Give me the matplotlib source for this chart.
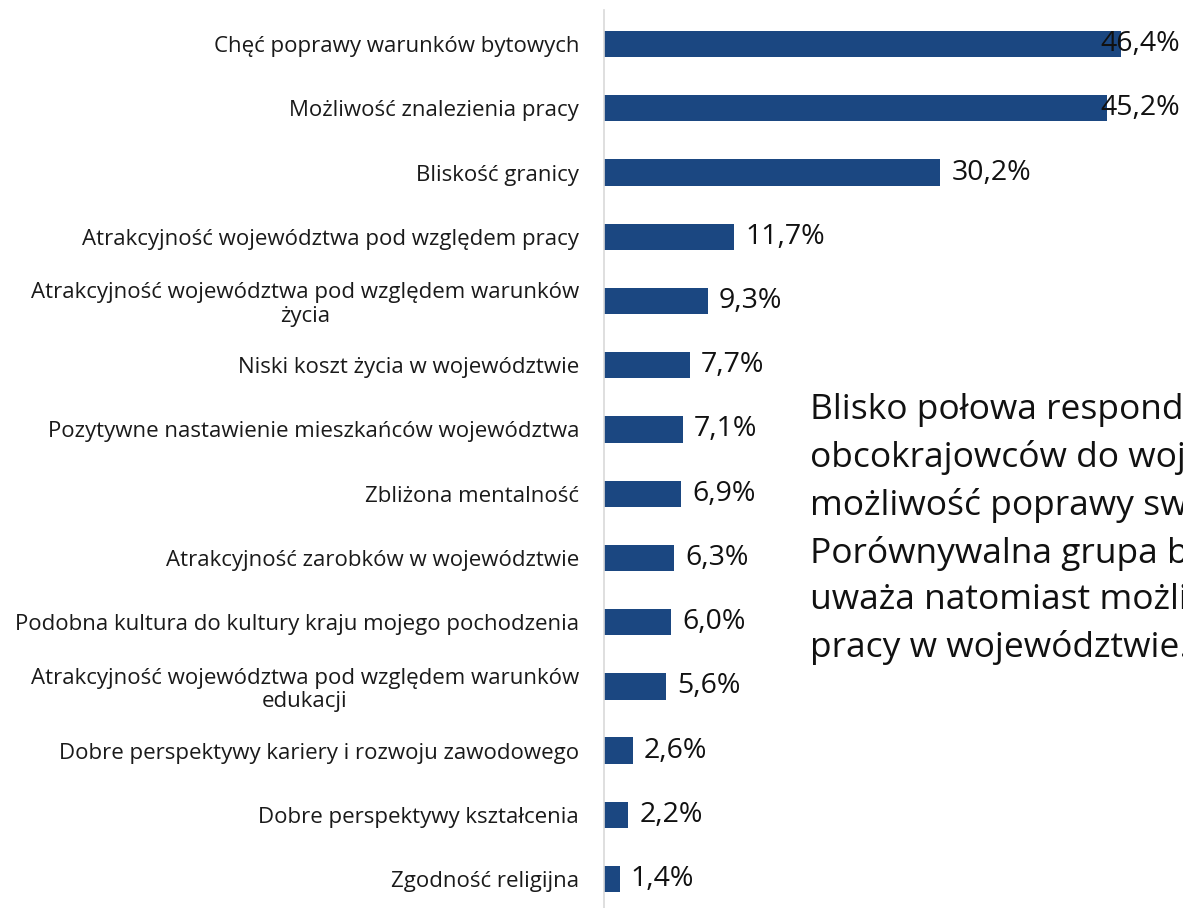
import matplotlib.pyplot as plt
import matplotlib.transforms as mtransforms

categories = [
    "Chęć poprawy warunków bytowych",
    "Możliwość znalezienia pracy",
    "Bliskość granicy",
    "Atrakcyjność województwa pod względem pracy",
    "Atrakcyjność województwa pod względem warunków\nżycia",
    "Niski koszt życia w województwie",
    "Pozytywne nastawienie mieszkańców województwa",
    "Zbliżona mentalność",
    "Atrakcyjność zarobków w województwie",
    "Podobna kultura do kultury kraju mojego pochodzenia",
    "Atrakcyjność województwa pod względem warunków\nedukacji",
    "Dobre perspektywy kariery i rozwoju zawodowego",
    "Dobre perspektywy kształcenia",
    "Zgodność religijna",
]
values = [46.4, 45.2, 30.2, 11.7, 9.3, 7.7, 7.1, 6.9, 6.3, 6.0, 5.6, 2.6, 2.2, 1.4]

callout = [
    "Blisko połowa respondentów wskazuje",
    "obcokrajowców do województwa",
    "możliwość poprawy swoich warunków",
    "Porównywalna grupa badanych",
    "uważa natomiast możliwość znalezienia",
    "pracy w województwie.",
]

plt.rcParams['font.family'] = ['Open Sans', 'DejaVu Sans']

BAR = '#1B4781'
XMAX = 52

def main():
    fig = plt.figure(figsize=(11.83, 9.08), dpi=100)
    ax = fig.add_axes([604 / 1183, 0, 1 - 604 / 1183, 1 - 10 / 908])

    pos = list(range(len(categories)))
    ax.barh(pos, values, height=0.41, color=BAR)
    ax.set_xlim(0, XMAX)
    ax.set_ylim(13.45, -0.53)

    ax.set_yticks(pos)
    ax.set_yticklabels(categories, fontsize=16, color='#1a1a1a')
    for lab in ax.get_yticklabels():
        lab.set_multialignment('center')
        lab.set_linespacing(1.15)
    ax.tick_params(axis='y', length=0, pad=18)
    ax.set_xticks([])

    for s in ['top', 'right', 'bottom']:
        ax.spines[s].set_visible(False)
    ax.spines['left'].set_color('#D9D9D9')
    ax.spines['left'].set_linewidth(1.2)

    # value labels; the longest ones get pushed back inside the figure
    edge = mtransforms.blended_transform_factory(ax.transAxes, ax.transData)
    for y, v in zip(pos, values):
        txt = f"{v:.1f}%".replace('.', ',')
        if v > 44:
            ax.text(0.994, y, txt, transform=edge, ha='right', va='center',
                    fontsize=20.5, color='#111111')
        else:
            ax.annotate(txt, (v, y), xytext=(8, 0), textcoords='offset points',
                        ha='left', va='center', fontsize=20.5, color='#111111')

    fig.text(810 / 1183, 1 - 392 / 908, "\n".join(callout), ha='left', va='top',
             fontsize=25.5, linespacing=1.48, color='#111111')

    fig.savefig('out.png', dpi=100)

if __name__ == "__main__":
    main()
